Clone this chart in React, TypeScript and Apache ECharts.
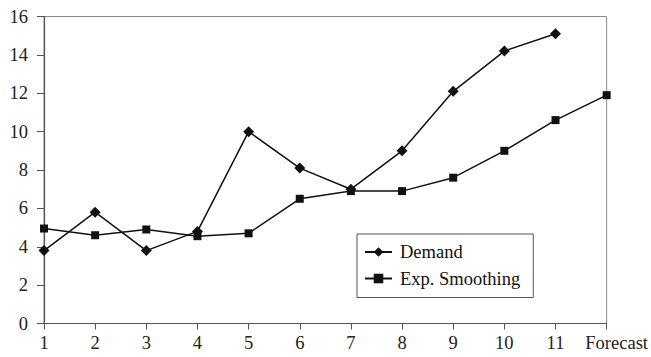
import React, { useEffect, useRef } from "react";
import * as echarts from "echarts";

const categories = ["1", "2", "3", "4", "5", "6", "7", "8", "9", "10", "11", "Forecast"];
const demand = [3.8, 5.8, 3.8, 4.8, 10.0, 8.1, 7.0, 9.0, 12.1, 14.2, 15.1, null];
const expSmoothing = [4.95, 4.6, 4.9, 4.55, 4.7, 6.5, 6.9, 6.9, 7.6, 9.0, 10.6, 11.9];
const yTicks = { min: 0, max: 16, interval: 2 };

const FONT = "Liberation Serif";
const FS = 18.5;

export default function App() {
  const ref = useRef<HTMLDivElement>(null);
  useEffect(() => {
    if (!ref.current) return;
    const chart = echarts.init(ref.current, null, { renderer: "svg" });
    chart.setOption({
      animation: false,
      backgroundColor: "#fff",
      textStyle: { fontFamily: FONT },
      grid: {
        left: 44,
        top: 16.5,
        right: 43.5,
        bottom: 33.5,
        show: true,
        borderColor: "#8a8a8a",
        borderWidth: 1,
        backgroundColor: "transparent",
      },
      legend: {
        orient: "vertical",
        left: 357,
        top: 234,
        padding: [8, 13, 9, 7],
        itemGap: 6.5,
        itemWidth: 27,
        itemHeight: 12,
        borderColor: "#555",
        borderWidth: 1,
        backgroundColor: "#fff",
        textStyle: { fontFamily: FONT, fontSize: FS, color: "#111", lineHeight: 20, padding: [0, 0, 0, 3] },
        data: ["Demand", "Exp. Smoothing"],
      },
      xAxis: {
        type: "category",
        data: categories,
        boundaryGap: false,
        axisLine: { lineStyle: { color: "#555", width: 1.2 } },
        axisTick: { show: true, length: 6, inside: false, interval: 0, lineStyle: { color: "#555" } },
        axisLabel: {
          interval: 0,
          fontFamily: FONT,
          fontSize: FS,
          color: "#222",
          margin: 10,
          formatter: (v: string) => (v === "Forecast" ? "{f|" + v + "}" : v),
          rich: {
            f: { fontFamily: FONT, fontSize: FS, color: "#222", padding: [0, 0, 0, 20] },
          },
        },
        splitLine: { show: false },
      },
      yAxis: {
        type: "value",
        min: yTicks.min,
        max: yTicks.max,
        interval: yTicks.interval,
        axisLine: { show: true, lineStyle: { color: "#555", width: 1.2 } },
        axisTick: { show: true, length: 7, inside: false, lineStyle: { color: "#555" } },
        axisLabel: { fontFamily: FONT, fontSize: FS, color: "#222", margin: 16 },
        splitLine: { show: false },
      },
      series: [
        {
          name: "Demand",
          type: "line",
          data: demand,
          symbol: "diamond",
          symbolSize: 11,
          showAllSymbol: true,
          lineStyle: { color: "#111", width: 1.5 },
          itemStyle: { color: "#111" },
          connectNulls: false,
        },
        {
          name: "Exp. Smoothing",
          type: "line",
          data: expSmoothing,
          symbol: "rect",
          symbolSize: 8,
          showAllSymbol: true,
          lineStyle: { color: "#111", width: 1.5 },
          itemStyle: { color: "#111" },
        },
      ],
    });
    return () => chart.dispose();
  }, []);
  return (
    <div
      ref={ref}
      style={{ position: "absolute", left: 0, top: 0, width: 651, height: 357 }}
    />
  );
}
